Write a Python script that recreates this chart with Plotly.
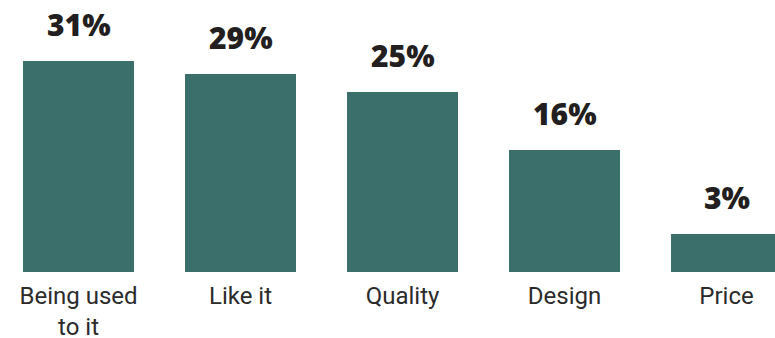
import plotly.graph_objects as go

categories = ["Being used<br>to it", "Like it", "Quality", "Design", "Price"]
bar_heights = [31.0, 29.09, 26.45, 17.93, 5.58]
value_labels = ["31%", "29%", "25%", "16%", "3%"]

BAR_COLOR = "#3B6F6B"

W, H = 775, 338
PX_PER_UNIT = 6.806
PLOT_H = 272
SLOT = 162          # pixel distance between bar centres
FIRST_CENTER = 78.5  # pixel x of first bar centre

fig = go.Figure()
fig.add_trace(go.Bar(
    x=list(range(len(categories))),
    y=bar_heights,
    width=0.685,
    marker=dict(color=BAR_COLOR, line=dict(width=0)),
    hoverinfo="skip",
))

for i, (h, lab) in enumerate(zip(bar_heights, value_labels)):
    fig.add_annotation(
        x=i, y=h, text=lab, showarrow=False,
        xanchor="center", yanchor="bottom", yshift=14,
        font=dict(family="Open Sans", size=30, color="#231F20", weight=800),
    )

fig.update_layout(
    width=W, height=H,
    margin=dict(l=0, r=0, t=0, b=H - PLOT_H, pad=0, autoexpand=False),
    paper_bgcolor="white", plot_bgcolor="white",
    showlegend=False,
    xaxis=dict(
        range=[-FIRST_CENTER / SLOT, (W - FIRST_CENTER) / SLOT],
        tickmode="array",
        tickvals=list(range(len(categories))),
        ticktext=categories,
        showgrid=False, zeroline=False, showline=False, ticks="",
        ticklabelstandoff=7,
        automargin=False,
        tickfont=dict(family="Roboto", size=24, color="#2B2B2B"),
    ),
    yaxis=dict(
        range=[0, PLOT_H / PX_PER_UNIT],
        visible=False, showgrid=False, zeroline=False, automargin=False,
    ),
)

fig.write_html(
    "out.html",
    config={"displayModeBar": False},
    post_script="document.body.style.margin='0';document.body.style.overflow='hidden';",
)
